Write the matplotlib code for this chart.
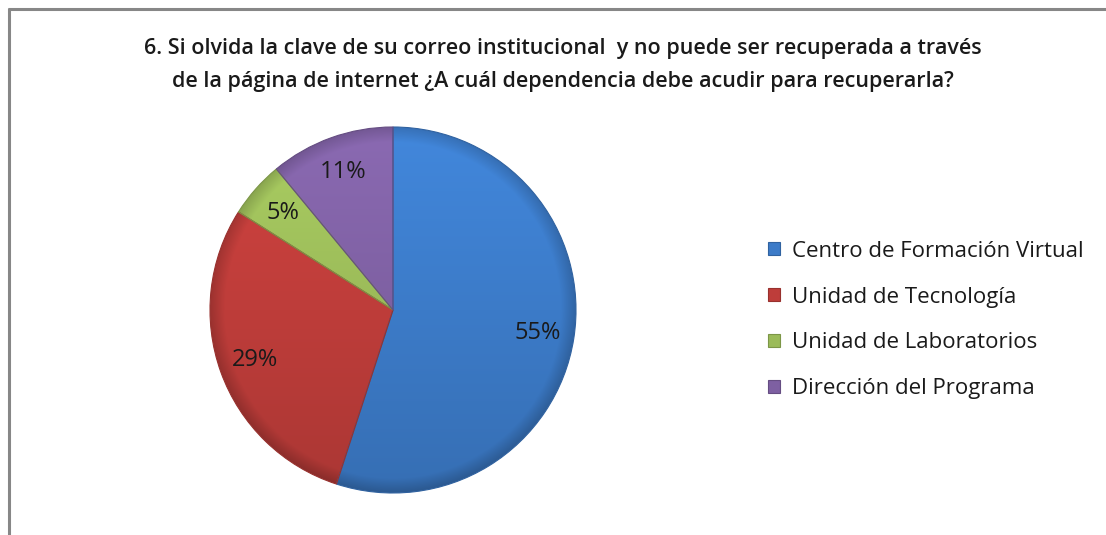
import numpy as np
import matplotlib
matplotlib.use('Agg')
import matplotlib.pyplot as plt
import matplotlib.colors as mcolors
from matplotlib.lines import Line2D
from matplotlib.patches import Patch

# Survey answers for question 6
categorias = ['Centro de Formación Virtual', 'Unidad de Tecnología',
              'Unidad de Laboratorios', 'Dirección del Programa']
porcentajes = [55, 29, 5, 11]
colores = ['#3C7BC8', '#BE3D3A', '#9BBB59', '#7E60A2']
titulo = ('6. Si olvida la clave de su correo institucional  y no puede ser recuperada a través\n'
          'de la página de internet ¿A cuál dependencia debe acudir para recuperarla?')

plt.rcParams['font.family'] = ['Open Sans', 'DejaVu Sans']

W, H = 1106, 535
fig = plt.figure(figsize=(W / 100, H / 100), dpi=100)
fig.patch.set_facecolor('white')

# Chart area border (only top and left edges are visible)
fig.add_artist(Line2D([9 / W, 9 / W], [0, 1 - 8 / H], transform=fig.transFigure,
                      color='#878787', lw=2.2, solid_capstyle='butt'))
fig.add_artist(Line2D([8 / W, 1], [1 - 9 / H, 1 - 9 / H], transform=fig.transFigure,
                      color='#878787', lw=2.2, solid_capstyle='butt'))

fig.text(563 / W, 1 - 65 / H, titulo, ha='center', va='center', fontsize=15.5,
         fontweight='semibold', linespacing=1.7, color='#1a1a1a')

# Pie axes placed by pixel centre and radius
cx, cy, r = 393, 310, 183
ax = fig.add_axes([(cx - r) / W, (H - cy - r) / H, 2 * r / W, 2 * r / H])

wedges, textos, autotextos = ax.pie(
    porcentajes, colors=colores, startangle=90, counterclock=False,
    autopct='%d%%', pctdistance=0.8, radius=1,
    wedgeprops=dict(edgecolor='none', linewidth=0),
    textprops=dict(fontsize=17, color='#1a1a1a'))
ax.set_xlim(-1.0, 1.0)
ax.set_ylim(-1.0, 1.0)
ax.set_aspect('equal')
ax.axis('off')

# Shading: lighter at the top, darker toward the rim and bottom
n = 400
yy, xx = np.mgrid[1:-1:n * 1j, -1:1:n * 1j]
rr = np.sqrt(xx ** 2 + yy ** 2)
factor = 1 + 0.10 * yy - 0.18 * np.clip((rr - 0.92) / 0.08, 0, 1)
for w, c in zip(wedges, colores):
    base = np.array(mcolors.to_rgb(c))
    img = np.clip(base[None, None, :] * factor[:, :, None], 0, 1)
    im = ax.imshow(img, extent=(-1, 1, -1, 1), zorder=w.get_zorder() + 0.1,
                   interpolation='bilinear')
    im.set_clip_path(w)
    # thin darker seam between slices
    w.set_edgecolor(tuple(base * 0.8))
    w.set_linewidth(0.8)
    w.set_zorder(w.get_zorder() + 0.2)
    w.set_facecolor('none')
for t in autotextos:
    t.set_zorder(10)

handles = [Patch(facecolor=c, edgecolor=tuple(np.array(mcolors.to_rgb(c)) * 0.8), lw=0.8)
           for c in colores]
leg = fig.legend(handles, categorias, loc='center left',
                 bbox_to_anchor=(748 / W, 1 - 320 / H), frameon=False,
                 fontsize=16, labelspacing=1.12, handlelength=0.55, handleheight=0.55,
                 handletextpad=0.55)
for t in leg.get_texts():
    t.set_color('#1a1a1a')

fig.savefig('out.png', dpi=100)
